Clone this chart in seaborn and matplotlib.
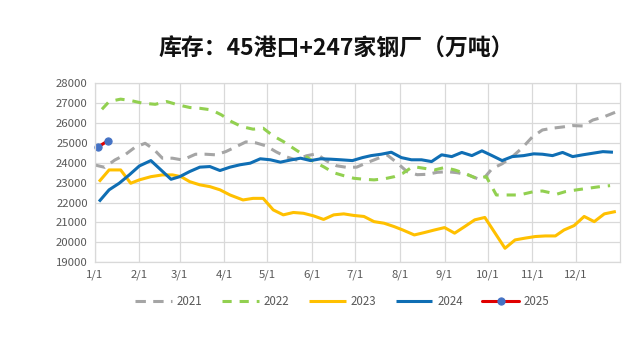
import matplotlib
matplotlib.use("Agg")
import matplotlib.pyplot as plt
import seaborn as sns
import pandas as pd

# ---------------- data (day of year, inventory in 10k tons) ----------------
days_2021 = [0, 7, 14, 21, 28, 35, 41, 47, 54, 61, 70, 77, 84, 91, 98, 105, 112, 119, 126, 133,
             140, 147, 154, 161, 168, 175, 182, 189, 196, 203, 210, 217, 224, 231, 238, 245, 252,
             259, 266, 270, 276, 283, 290, 297, 304, 311, 318, 325, 332, 339, 346, 353, 364]
vals_2021 = [23890, 23770, 24140, 24400, 24780, 24980, 24680, 24230, 24230, 24140, 24430, 24430,
             24400, 24560, 24800, 25050, 25000, 24850, 24550, 24300, 24140, 24350, 24450, 24100,
             23850, 23770, 23780, 24000, 24200, 24400, 24000, 23550, 23400, 23420, 23520, 23550,
             23500, 23400, 23200, 23190, 23700, 23950, 24300, 24750, 25300, 25650, 25740, 25800,
             25870, 25850, 26150, 26290, 26610]

days_2022 = [5, 10, 18, 25, 33, 42, 50, 58, 66, 73, 81, 88, 95, 102, 110, 117, 124, 131, 138,
             145, 152, 159, 166, 173, 180, 187, 194, 201, 208, 214, 221, 228, 236, 243, 250, 257,
             265, 272, 279, 286, 295, 305, 311, 321, 327, 335, 343, 351, 358]
vals_2022 = [26690, 27080, 27200, 27130, 27000, 26940, 27080, 26910, 26780, 26740, 26660, 26410,
             26070, 25820, 25690, 25740, 25350, 25070, 24730, 24400, 24060, 23800, 23500, 23350,
             23220, 23170, 23140, 23190, 23300, 23470, 23810, 23730, 23640, 23760, 23640, 23470,
             23220, 23300, 22380, 22380, 22380, 22550, 22580, 22420, 22550, 22640, 22720, 22800,
             22850]

days_2023 = [3, 10, 18, 25, 31, 39, 47, 54, 60, 66, 73, 80, 87, 94, 103, 110, 117, 124, 131,
             138, 145, 152, 159, 166, 173, 180, 187, 194, 201, 208, 214, 222, 229, 236, 243, 250,
             257, 264, 271, 285, 292, 299, 306, 313, 320, 326, 333, 340, 347, 354, 362]
vals_2023 = [23050, 23640, 23640, 22970, 23140, 23300, 23390, 23390, 23300, 23050, 22890, 22800,
             22640, 22380, 22130, 22210, 22210, 21630, 21380, 21500, 21460, 21330, 21150, 21380,
             21430, 21350, 21300, 21040, 20960, 20790, 20620, 20370, 20490, 20620, 20740, 20460,
             20790, 21130, 21250, 19700, 20120, 20210, 20290, 20320, 20320, 20620, 20840, 21300,
             21040, 21430, 21550]

days_2024 = [3, 10, 17, 24, 31, 39, 53, 59, 66, 73, 80, 87, 94, 101, 108, 115, 122, 129, 136,
             143, 150, 157, 164, 171, 179, 186, 192, 199, 206, 213, 220, 227, 234, 241, 248, 255,
             262, 269, 276, 283, 290, 298, 305, 311, 318, 325, 332, 339, 346, 353, 360]
vals_2024 = [22050, 22640, 22970, 23390, 23840, 24110, 23170, 23300, 23560, 23780, 23810, 23610,
             23780, 23900, 23980, 24200, 24150, 24030, 24140, 24230, 24110, 24200, 24180, 24150,
             24110, 24260, 24360, 24430, 24530, 24260, 24150, 24150, 24060, 24400, 24310, 24520,
             24360, 24600, 24360, 24110, 24310, 24360, 24450, 24430, 24360, 24520, 24310, 24400,
             24480, 24560, 24530]

days_2025 = [2, 9]
vals_2025 = [24780, 25100]

month_starts = [0, 31, 59, 90, 120, 151, 181, 212, 243, 273, 304, 334]
month_labels = ["1/1", "2/1", "3/1", "4/1", "5/1", "6/1", "7/1", "8/1", "9/1", "10/1", "11/1", "12/1"]
y_ticks = list(range(19000, 28001, 1000))

title = "库存：45港口+247家钢厂（万吨）"

# ---------------- style ----------------
sns.set_theme(style="white")
plt.rcParams["font.family"] = ["Noto Sans CJK SC", "DejaVu Sans"]

fig = plt.figure(figsize=(6.4, 3.37), dpi=100)
ax = fig.add_axes([0.148, 0.222, 0.821, 0.531])

series = [
    ("2021", days_2021, vals_2021, "#A5A5A5", 2.2, (3.4, 2.4)),
    ("2022", days_2022, vals_2022, "#92D050", 2.2, (3.0, 2.6)),
    ("2023", days_2023, vals_2023, "#FFC000", 2.2, None),
    ("2024", days_2024, vals_2024, "#0F6EB4", 2.2, None),
]
for name, d, v, c, lw, dash in series:
    df = pd.DataFrame({"day": d, "value": v})
    sns.lineplot(data=df, x="day", y="value", color=c, linewidth=lw, ax=ax,
                 label=name, errorbar=None)
    line = ax.lines[-1]
    line.set_solid_capstyle("butt")
    if dash is not None:
        line.set_dashes(dash)
        line.set_dash_capstyle("butt")

df25 = pd.DataFrame({"day": days_2025, "value": vals_2025})
sns.lineplot(data=df25, x="day", y="value", color="#E00000", linewidth=2.2, ax=ax,
             label="2025", marker="o", markersize=5.2, markerfacecolor="#4472C4",
             markeredgecolor="#4472C4", errorbar=None, clip_on=False)

ax.set_xlim(0, 365)
ax.set_ylim(19000, 28000)
ax.set_xticks(month_starts)
ax.set_xticklabels(month_labels)
ax.set_yticks(y_ticks)
ax.set_yticklabels([str(t) for t in y_ticks])
ax.set_xlabel("")
ax.set_ylabel("")
ax.grid(True, color="#D9D9D9", linewidth=0.9)
ax.set_axisbelow(True)
for s in ax.spines.values():
    s.set_color("#D9D9D9")
    s.set_linewidth(0.9)
ax.tick_params(axis="both", length=0, labelsize=8.2, labelcolor="#595959", pad=5)

leg = ax.legend(loc="center", bbox_to_anchor=(0.535, 0.104), bbox_transform=fig.transFigure,
                ncol=5, frameon=False, fontsize=8.3, handlelength=3.2, handletextpad=0.4,
                columnspacing=1.7)
for t in leg.get_texts():
    t.set_color("#595959")

fig.text(0.525, 0.855, title, ha="center", va="center", fontsize=16.5, fontweight="bold",
         color="#111111")

fig.savefig("out.png", dpi=100, facecolor="white")
